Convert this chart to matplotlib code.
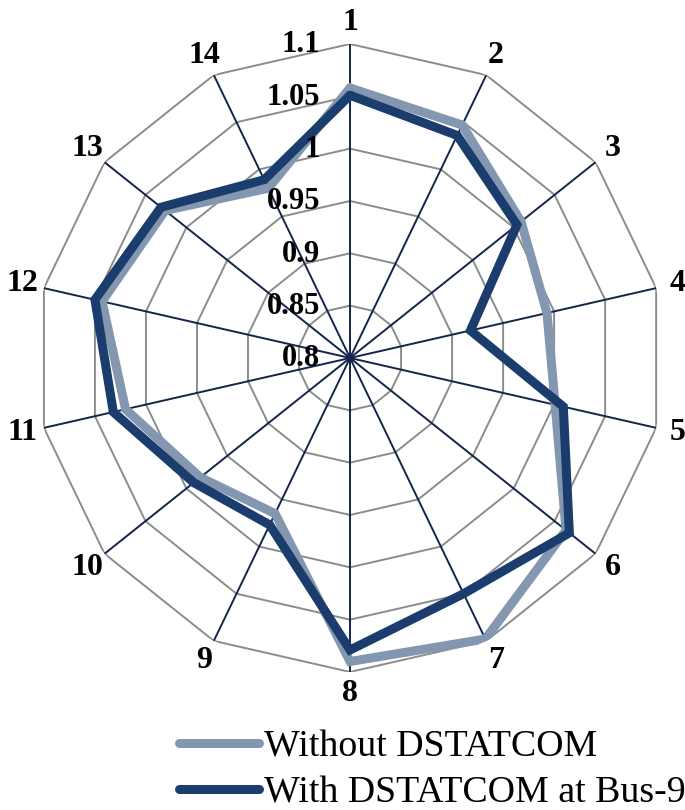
import numpy as np
import matplotlib
matplotlib.use("Agg")
import matplotlib.pyplot as plt

# bus numbers and voltage profiles (p.u.)
buses = [str(i) for i in range(1, 15)]
without_dst = [1.058, 1.047, 1.009, 0.993, 1.001, 1.064, 1.098,
               1.090, 0.965, 0.983, 1.020, 1.043, 1.026, 0.980]
with_dst = [1.051, 1.036, 1.004, 0.918, 1.009, 1.068, 1.050,
            1.079, 0.977, 0.991, 1.032, 1.050, 1.031, 0.989]
rings = [0.85, 0.9, 0.95, 1.0, 1.05, 1.1]
ring_labels = ["0.8", "0.85", "0.9", "0.95", "1", "1.05", "1.1"]
rmin, rmax = 0.8, 1.1

serif = "Liberation Serif"
light = "#8497B0"
dark = "#1B3D6D"

fig = plt.figure(figsize=(6.85, 8.10), dpi=100)
ax = fig.add_axes([0.0526, 0.1704, 0.9168, 0.7753], projection="polar")
ax.set_theta_zero_location("N")
ax.set_theta_direction(-1)
ax.set_ylim(rmin, rmax)
ax.grid(False)
ax.set_xticks([])
ax.set_yticks([])
ax.spines["polar"].set_visible(False)

n = len(buses)
ang = np.arange(n) * 2 * np.pi / n
angc = np.append(ang, ang[0])

# polygon gridlines
for r in rings:
    ax.plot(angc, [r] * (n + 1), color="#8C8C8C", lw=1.4, zorder=1)
# spokes
for a in ang:
    ax.plot([a, a], [rmin, rmax], color="#14254A", lw=1.4, zorder=2)

l1, = ax.plot(angc, without_dst + without_dst[:1], color=light, lw=6.5,
              solid_joinstyle="miter", solid_capstyle="round", zorder=3)
l2, = ax.plot(angc, with_dst + with_dst[:1], color=dark, lw=6.5,
              solid_joinstyle="miter", solid_capstyle="round", zorder=4)

# radial value labels along spoke 1
for v, s in zip([rmin] + rings, ring_labels):
    ax.annotate(s, xy=(0, v), xytext=(-30, -1), textcoords="offset pixels",
                ha="right", va="center", fontsize=22, fontweight="bold",
                family=serif, zorder=5, annotation_clip=False)

# bus labels
for a, b in zip(ang, buses):
    ax.text(a, 1.121, b, ha="center", va="center", fontsize=23,
            fontweight="bold", family=serif)

fig.legend([l1, l2], ["Without DSTATCOM", "With DSTATCOM at Bus-9"],
           loc="upper left", bbox_to_anchor=(0.262, 0.099), frameon=False,
           prop={"family": serif, "size": 27.3}, handlelength=2.1,
           handletextpad=0.12, labelspacing=0.3, borderaxespad=0,
           borderpad=0)

fig.savefig("out.png", dpi=100)
